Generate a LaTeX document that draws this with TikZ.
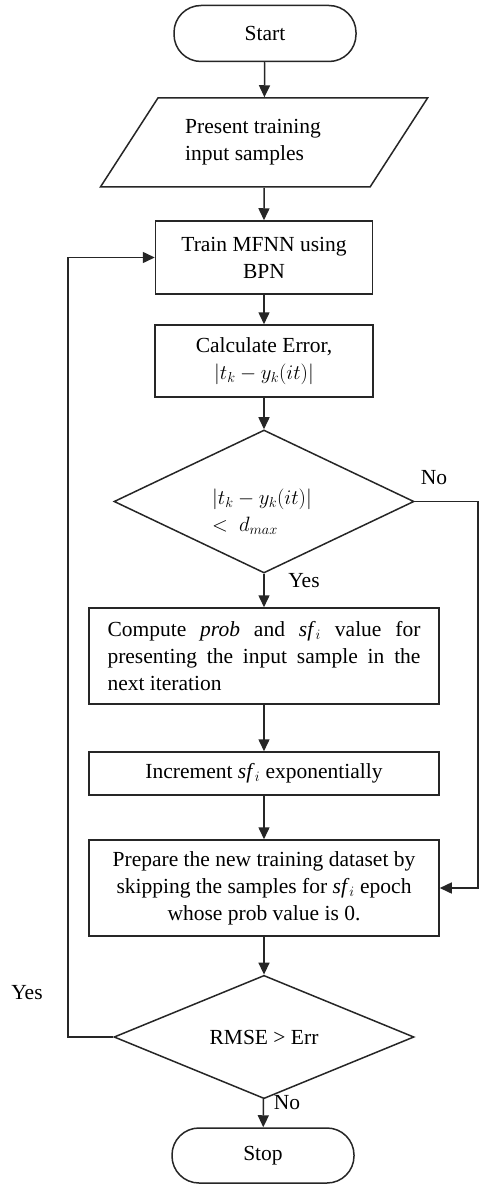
\documentclass[tikz,border=0pt]{standalone}
\usepackage{fontspec}
\setmainfont{Liberation Serif}
\usetikzlibrary{shapes.geometric,arrows.meta}
\begin{document}
\begin{tikzpicture}[x=1pt,y=-1pt,
  font=\fontsize{21.5}{27}\selectfont,
  line width=1.5pt, draw=black!85,
  box/.style={draw, rectangle, inner sep=0pt, align=center},
  term/.style={draw, rectangle, rounded corners=27pt, inner sep=0pt, minimum width=182pt, minimum height=56pt},
  dec/.style={draw, diamond, inner sep=0pt, align=left},
  arr/.style={-{Triangle[length=12pt,width=11pt]}},
  lbl/.style={inner sep=0pt}]
\useasboundingbox (0,0) rectangle (479,1185);
\fill[white] (0,0) rectangle (479,1185);

\node[term] (start) at (265,33.5) {Start};
\node[draw, trapezium, trapezium left angle=47, trapezium right angle=133,
      trapezium stretches=true, minimum width=328pt, minimum height=89pt,
      inner sep=0pt, align=left] (input) at (264,142.5) {Present training\hspace*{22pt}\\input samples};
\node[box, minimum width=217pt, minimum height=73pt] (train) at (264,257.5) {Train MFNN using\\BPN};
\node[box, minimum width=218pt, minimum height=72pt] (calc) at (264,361) {Calculate Error,\\$|t_k-y_k(it)|$};
\node[dec, minimum width=300pt, minimum height=143pt] (dec1) at (264,501.5)
  {\raisebox{-16pt}[0pt][0pt]{\begin{tabular}{@{}l@{}}$|t_k-y_k(it)|$\hspace*{4pt}\\$<\ d_{max}$\end{tabular}}};
\node[box, minimum width=350pt, minimum height=96pt, align=left] (compute) at (264,656)
  {\makebox[313pt][s]{Compute \textit{prob} and \textit{sf}$_i$ value for}\\
   \makebox[313pt][s]{presenting the input sample in the}\\
   \makebox[313pt][l]{next iteration}};
\node[box, minimum width=350pt, minimum height=43pt] (incr) at (264,773.5) {Increment \textit{sf}$_i$ exponentially};
\node[box, minimum width=350pt, minimum height=96pt] (prep) at (264,888)
  {Prepare the new training dataset by\\skipping the samples for \textit{sf}$_i$ epoch\\whose prob value is 0.};
\node[dec, minimum width=300pt, minimum height=110pt] (dec2) at (264,1037) {RMSE > Err};
\node[term, minimum height=55pt] (stop) at (263,1155.5) {Stop};

\node[lbl] (yes1) at (304,581) {Yes};
\node[lbl] (no1) at (434,478) {No};
\node[lbl] (yes2) at (27,993) {Yes};
\node[lbl] (no2) at (287,1103) {No};

\coordinate (rr) at (478,0);
\coordinate (ll) at (68,0);

\draw[arr] (start) -- (input);
\draw[arr] (input) -- (train);
\draw[arr] (train) -- (calc);
\draw[arr] (calc) -- (dec1);
\draw[arr] (dec1) -- (compute);
\draw[arr] (compute) -- (incr);
\draw[arr] (incr) -- (prep);
\draw[arr] (prep) -- (dec2);
\draw[arr] (dec2) -- (stop);
\draw[arr] (dec1.east) -- (dec1.east -| rr) |- (prep.east);
\draw[arr] (dec2.west) -- (dec2.west -| ll) |- (train.west);
\end{tikzpicture}
\end{document}
